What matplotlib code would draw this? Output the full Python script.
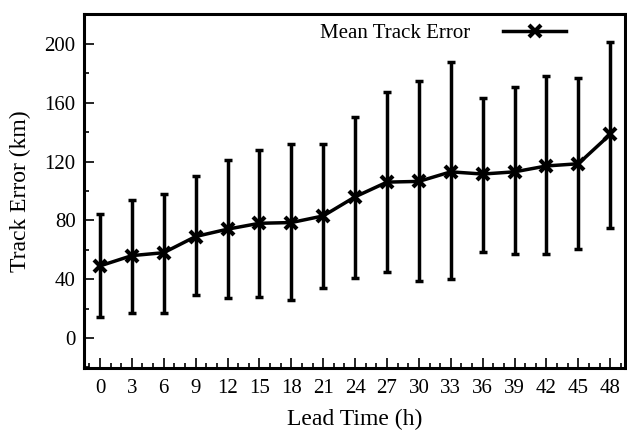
import numpy as np
import matplotlib.pyplot as plt
from matplotlib.ticker import MultipleLocator

plt.rcParams['font.family'] = ['Liberation Serif', 'DejaVu Serif']

# 预报时效与平均路径误差
lead_time = [0, 3, 6, 9, 12, 15, 18, 21, 24, 27, 30, 33, 36, 39, 42, 45, 48]
mean_err = [49, 56, 58, 69, 74, 78, 78.5, 83, 96, 106, 106.5, 113, 111.5, 113, 117, 118.5, 138.5]
upper_err = [84, 94, 98, 110, 121, 128, 132, 132, 150.5, 167, 175, 187.5, 163.5, 170.5, 178, 177, 201.5]
lower_err = [14, 17, 17, 29, 27.5, 28, 25.5, 34, 41, 45, 39, 40, 58.5, 57, 57, 60.5, 75]

mean_err = np.array(mean_err)
yerr = [mean_err - np.array(lower_err), np.array(upper_err) - mean_err]

fig = plt.figure(figsize=(6.27, 4.32), dpi=100)
ax = fig.add_axes([0.134, 0.148, 0.863, 0.82])

ax.errorbar(lead_time, mean_err, yerr=yerr, fmt='none', ecolor='black',
            elinewidth=2.5, capsize=2.8, capthick=2.5)
ax.plot(lead_time, mean_err, color='black', lw=2.5, marker='x',
        markersize=8, markeredgewidth=3, label='Mean Track Error')

ax.set_xlim(-1.5, 49.4)
ax.set_ylim(-20.5, 220.5)
ax.xaxis.set_major_locator(MultipleLocator(3))
ax.xaxis.set_minor_locator(MultipleLocator(1))
ax.yaxis.set_major_locator(MultipleLocator(40))
ax.yaxis.set_minor_locator(MultipleLocator(20))
ax.tick_params(which='both', direction='in', top=False, right=False,
               labelsize=15, width=1.2)
ax.tick_params(axis='x', which='major', length=7, pad=8)
ax.tick_params(axis='y', which='major', length=7, pad=6)
ax.tick_params(which='minor', length=3.5)
for s in ax.spines.values():
    s.set_linewidth(2.2)

ax.set_xlabel('Lead Time (h)', fontsize=17, labelpad=8)
ax.set_ylabel('Track Error (km)', fontsize=17, labelpad=10)

ax.legend(loc='upper right', bbox_to_anchor=(0.925, 1.025), frameon=False,
          markerfirst=False, fontsize=15, handlelength=3.0, handletextpad=1.6)

fig.savefig('out.png', dpi=100)
